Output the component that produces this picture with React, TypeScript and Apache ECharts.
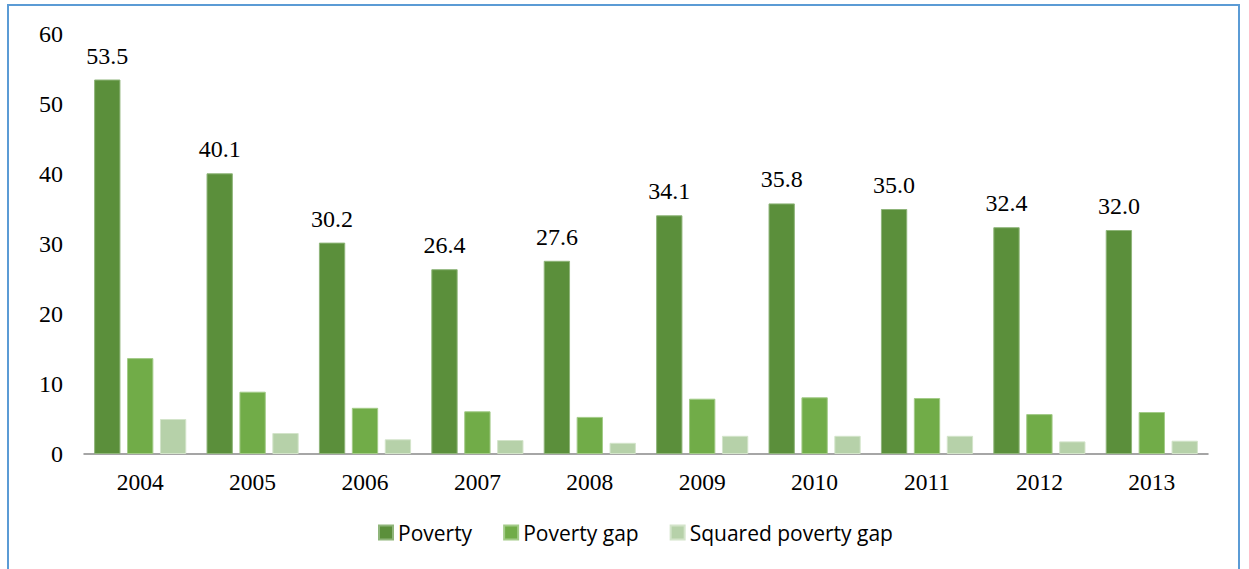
import React, { useEffect, useRef } from "react";
import * as echarts from "echarts";

const years = ["2004", "2005", "2006", "2007", "2008", "2009", "2010", "2011", "2012", "2013"];
const poverty = [53.5, 40.1, 30.2, 26.4, 27.6, 34.1, 35.8, 35.0, 32.4, 32.0];
const povertyGap = [13.7, 8.9, 6.6, 6.1, 5.3, 7.9, 8.1, 8.0, 5.7, 6.0];
const squaredGap = [5.0, 3.0, 2.1, 2.0, 1.6, 2.6, 2.6, 2.6, 1.8, 1.9];
const yTicks = [0, 10, 20, 30, 40, 50, 60];

export default function App() {
  const ref = useRef<HTMLDivElement>(null);
  useEffect(() => {
    document.body.style.margin = "0";
    const chart = echarts.init(ref.current!, undefined, { renderer: "svg" });
    const serif = "'Liberation Serif', 'Times New Roman', serif";
    chart.setOption({
      animation: false,
      backgroundColor: "#ffffff",
      graphic: [
        {
          type: "rect",
          shape: { x: 8, y: 5, width: 1231, height: 600 },
          style: { fill: "none", stroke: "#5b9bd5", lineWidth: 2 },
          silent: true,
        },
      ],
      legend: {
        top: 517,
        left: 373,
        itemWidth: 14,
        itemHeight: 14,
        itemGap: 31,
        icon: "rect",
        textStyle: { fontFamily: "'Open Sans', 'Noto Sans', sans-serif", fontSize: 21, color: "#000" },
        data: ["Poverty", "Poverty gap", "Squared poverty gap"],
      },
      grid: { left: 84, right: 41, top: 34, bottom: 115, containLabel: false },
      xAxis: {
        type: "category",
        data: years,
        axisLine: { lineStyle: { color: "#888888", width: 1.5 } },
        axisTick: { show: false },
        axisLabel: { fontFamily: serif, fontSize: 23.5, color: "#000", margin: 16 },
      },
      yAxis: {
        type: "value",
        min: yTicks[0],
        max: yTicks[yTicks.length - 1],
        interval: 10,
        axisLine: { show: false },
        axisTick: { show: false },
        splitLine: { show: false },
        axisLabel: { fontFamily: serif, fontSize: 24, color: "#000", margin: 21 },
      },
      series: [
        {
          name: "Poverty",
          type: "bar",
          data: poverty,
          barGap: "25%",
          barCategoryGap: "18%",
          itemStyle: { color: "#5b8f3b", borderColor: "#8fb57a", borderWidth: 1 },
          label: {
            show: true,
            position: "top",
            distance: 12,
            formatter: (p: any) => p.value.toFixed(1),
            fontFamily: serif,
            fontSize: 24,
            color: "#000",
          },
        },
        {
          name: "Poverty gap",
          type: "bar",
          data: povertyGap,
          itemStyle: { color: "#71ac48", borderColor: "#a3cb88", borderWidth: 1 },
        },
        {
          name: "Squared poverty gap",
          type: "bar",
          data: squaredGap,
          itemStyle: { color: "#b6d1a9", borderColor: "#d3e4ca", borderWidth: 1 },
        },
      ],
    });
    return () => chart.dispose();
  }, []);
  return <div ref={ref} style={{ width: 1249, height: 569 }} />;
}
